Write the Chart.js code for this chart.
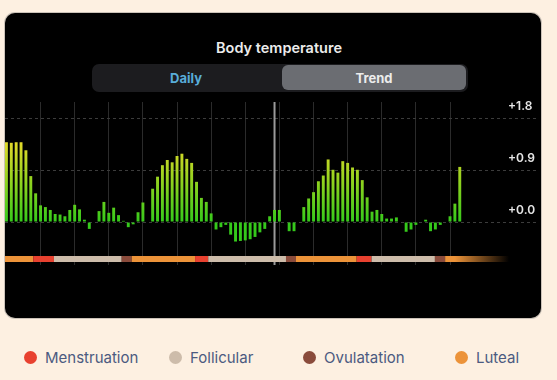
<!DOCTYPE html>
<html>
<head>
<meta charset="utf-8">
<script src="https://cdn.jsdelivr.net/npm/chart.js@4.4.0/dist/chart.umd.min.js"></script>
<style>
	body { margin:0; width:557px; height:380px; background:#fdf0e1; position:relative; overflow:hidden; font-family:Inter, "Noto Sans", sans-serif; }
	#panel { position:absolute; left:5px; top:13px; width:536px; height:305px; background:#000; border-radius:10px; box-shadow:0 0 0 1px rgba(110,110,110,0.35); }
	#title { position:absolute; left:179px; top:40px; width:200px; text-align:center; color:#ececec; font-size:14.5px; line-height:16px; font-weight:600; }
	#seg { position:absolute; left:92px; top:64px; width:376px; height:28px; background:#1c1c1f; border-radius:7px; }
	#seg span { position:absolute; top:0; height:28px; line-height:28px; text-align:center; font-size:13px; font-weight:700; }
	#daily { left:0; width:188px; color:#58acd9; }
	#trend { left:190px; top:1px !important; height:25px !important; line-height:26px !important; width:184px; background:#6b6d72; color:#ececec; border-radius:6px; }
	#chart { position:absolute; left:0; top:94px; }
	.item { position:absolute; top:347px; height:20px; display:flex; align-items:center; color:#4b5a80; font-size:15px; }
	.dot { width:13px; height:13px; border-radius:50%; margin-right:8px; }
</style>
</head>
<body>
<div id="panel"></div>
<div id="title">Body temperature</div>
<div id="seg"><span id="daily">Daily</span><span id="trend">Trend</span></div>
<canvas id="chart" width="557" height="181"></canvas>
<div class="item" style="left:24px"><div class="dot" style="background:#e8412f"></div>Menstruation</div>
<div class="item" style="left:169px"><div class="dot" style="background:#cdbcaa"></div>Follicular</div>
<div class="item" style="left:303px"><div class="dot" style="background:#8a4b3b"></div>Ovulatation</div>
<div class="item" style="left:455px"><div class="dot" style="background:#ec9339"></div>Luteal</div>
<script>
// daily deviation from baseline temperature, one value per day (null = no reading)
var temps = [
	1.39, 1.38, 1.39, 1.39, 1.25, 0.80, 0.50, 0.29, 0.26, 0.21,
	0.14, 0.13, 0.10, 0.21, 0.30, 0.22, 0.04, -0.12, null, 0.19,
	0.35, 0.16, 0.25, 0.12, 0.02, -0.09, -0.04, 0.17, 0.34, null,
	0.58, 0.79, 0.99, 1.08, 1.04, 1.15, 1.19, 1.10, 1.03, 0.70,
	0.42, 0.35, 0.15, -0.13, -0.09, -0.05, -0.22, -0.34, -0.33, -0.32,
	-0.30, -0.26, -0.18, -0.12, 0.10, 0.21, 0.21, null, -0.16, -0.16,
	null, 0.26, 0.41, 0.52, 0.71, 0.81, 1.09, 0.91, 0.86, 1.06,
	1.03, 0.95, 0.91, 0.73, 0.43, 0.18, 0.21, 0.14, 0.06, 0.06,
	0.08, null, -0.17, -0.13, -0.05, null, 0.04, -0.16, -0.13, -0.05,
	null, 0.10, 0.32, 0.96
];
// weekly grid lines (day numbers) and the labelled levels
var gridDays = [7, 14, 21, 28, 35, 42, 49, 56, 63, 70, 77, 84, 91];
var yTicks = [0, 0.9, 1.8];
var selectedDay = 55;
// cycle phases in the strip under the bars: name + day where each block starts
var phaseNames = ['Luteal', 'Menstruation', 'Follicular', 'Ovulatation', 'Luteal', 'Menstruation', 'Follicular', 'Ovulatation', 'Luteal', 'Menstruation', 'Follicular', 'Ovulatation', 'Luteal'];
var phaseStarts = [-0.3, 5.5, 9.75, 23.65, 25.7, 38.7, 41.4, 57.35, 59.4, 71.85, 74.9, 87.9, 90.0];

var phaseColors = {Menstruation:'#e8412f', Follicular:'#cdbcaa', Ovulatation:'#8a4b3b', Luteal:'#ec9339'};

//points for the linear x axis
var points = [];
for (var i in temps) {
	points.push({x: Number(i), y: temps[i]});
}

//green at zero, yellow towards the top
function barColor(context) {
	var chart = context.chart;
	if (!chart.chartArea) return '#3ccf1c';
	var y = chart.scales.y;
	var g = chart.ctx.createLinearGradient(0, y.getPixelForValue(0), 0, y.getPixelForValue(1.4));
	g.addColorStop(0, '#35c91b');
	g.addColorStop(0.5, '#90d21f');
	g.addColorStop(1, '#e4d92a');
	return g;
}

//selected day marker + phase strip
var overlay = {
	id: 'overlay',
	beforeDatasetsDraw: function(chart) {
		var ctx = chart.ctx, area = chart.chartArea, x = chart.scales.x;
		ctx.save();
		var sx = x.getPixelForValue(selectedDay);
		ctx.fillStyle = 'rgba(205,205,205,0.75)';
		ctx.fillRect(sx - 1, area.top, 2, area.bottom - area.top);

		var top = area.bottom - 9;
		for (var i = 0; i < phaseNames.length; i++) {
			var x0 = Math.max(area.left, x.getPixelForValue(phaseStarts[i]));
			var x1 = (i < phaseNames.length - 1) ? x.getPixelForValue(phaseStarts[i + 1]) : area.right;
			var col = phaseColors[phaseNames[i]];
			if (i == phaseNames.length - 1) {
				var g = ctx.createLinearGradient(x0, 0, x1, 0);
				g.addColorStop(0, col);
				g.addColorStop(0.15, col);
				g.addColorStop(1, 'rgba(236,147,57,0)');
				ctx.fillStyle = g;
			} else {
				ctx.fillStyle = col;
			}
			ctx.fillRect(x0, top, x1 - x0, 6);
		}
		ctx.restore();
	}
};

var ctx = document.getElementById('chart');
var tempChart = new Chart(ctx, {
	type: 'bar',
	data: {
		datasets: [{
			data: points,
			backgroundColor: barColor,
			borderWidth: 0,
			barPercentage: 0.6,
			categoryPercentage: 1
		}]
	},
	options: {
		responsive: false,
		animation: false,
		devicePixelRatio: 1,
		layout: { padding: { left: 5, right: 0, top: 8, bottom: 10 } },
		plugins: { legend: { display: false }, tooltip: { enabled: false } },
		scales: {
			x: {
				type: 'linear',
				offset: false,
				min: -0.29,
				max: 103.1,
				afterBuildTicks: function(axis) {
					axis.ticks = gridDays.map(function(d) { return {value: d}; });
				},
				ticks: { display: false },
				grid: { color: '#2b2b2b', lineWidth: 1, drawTicks: false, offset: false },
				border: { display: false }
			},
			y: {
				position: 'right',
				min: -0.749,
				max: 2.091,
				afterBuildTicks: function(axis) {
					axis.ticks = yTicks.map(function(v) { return {value: v}; });
				},
				afterFit: function(axis) { axis.width = 48; },
				ticks: {
					color: '#e6e6e6',
					font: { family: 'Inter', size: 12, weight: '600' },
					padding: -29,
					labelOffset: -12,
					callback: function(v) { return '+' + Number(v).toFixed(1); }
				},
				grid: { color: '#3c3c3c', tickColor: '#3c3c3c', tickLength: 28, drawTicks: true, tickBorderDash: [3, 3] },
				border: { display: false, dash: [3, 3] }
			}
		}
	},
	plugins: [overlay]
});
</script>
</body>
</html>
